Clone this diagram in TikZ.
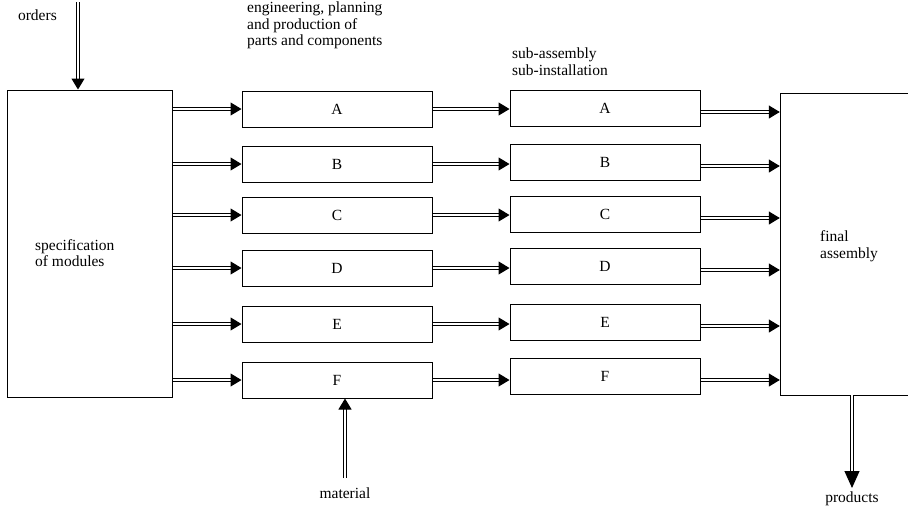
\documentclass[tikz,border=0pt]{standalone}
\usepackage{fontspec}
\setmainfont{Liberation Serif}
\usetikzlibrary{arrows.meta}
\begin{document}
\begin{tikzpicture}[x=1pt,y=-1pt,
  box/.style={draw,line width=1pt,minimum width=190pt,minimum height=36pt,inner sep=0pt,font=\fontsize{15.5}{16.5}\selectfont},
  lbl/.style={font=\fontsize{15.5}{16.5}\selectfont,align=left,inner sep=0pt},
  dbl/.style={draw,line width=1pt,double distance=2pt,-{Triangle[length=11pt,width=13pt]}},
  bigdbl/.style={dbl,-{Triangle[length=17pt,width=15pt]}}]
\useasboundingbox (0,0) rectangle (908,507);
% main blocks
\node[draw,line width=1pt,minimum width=165pt,minimum height=307pt,inner sep=0pt] (spec) at (89.5,243.5) {};
\node[lbl,anchor=west] at (35,253) {specification\\of modules};
\node[inner sep=0pt,minimum width=128pt,minimum height=302pt] (fin) at (844,244) {};
\draw[line width=1pt] (908,93) -- (780,93) -- (780,395) -- (908,395);
\node[lbl,anchor=west] at (820,246) {final\\assembly};
% column headings
\node[lbl,anchor=north west] at (247,2) {engineering, planning\\and production of\\parts and components};
\node[lbl,anchor=north west] at (512,48) {sub-assembly\\sub-installation};
% middle column
\node[box] (a1) at (337,109) {A};
\node[box] (b1) at (337,164) {B};
\node[box] (c1) at (337,215) {C};
\node[box] (d1) at (337,268) {D};
\node[box] (e1) at (337,324) {E};
\node[box] (f1) at (337,380) {F};
% right column
\node[box] (a2) at (605,108) {A};
\node[box] (b2) at (605,162) {B};
\node[box] (c2) at (605,214) {C};
\node[box] (d2) at (605,266) {D};
\node[box] (e2) at (605,322) {E};
\node[box] (f2) at (605,376) {F};
% arrows
\foreach \m/\r in {a1/a2,b1/b2,c1/c2,d1/d2,e1/e2,f1/f2}{
  \draw[dbl] (spec.east |- \m.west) -- (\m.west);
  \draw[dbl] (\m.east) -- (\m.east -| \r.west);
  \draw[dbl] ([yshift=-4pt]\r.east) -- ([yshift=-4pt]\r.east -| fin.west);
}
% orders
\coordinate (oin) at (78,2);
\node[lbl,anchor=base east] at (57,20) {orders};
\draw[dbl] (oin) -- (oin |- spec.north);
% material
\coordinate (min) at (345,478);
\node[lbl,anchor=base] at (345,498) {material};
\draw[dbl] (min) -- (min |- f1.south);
% products
\coordinate (pout) at (852,488);
\draw[bigdbl] (pout |- fin.south) -- (pout);
\node[lbl,anchor=base] at (852,502) {products};
\end{tikzpicture}
\end{document}
